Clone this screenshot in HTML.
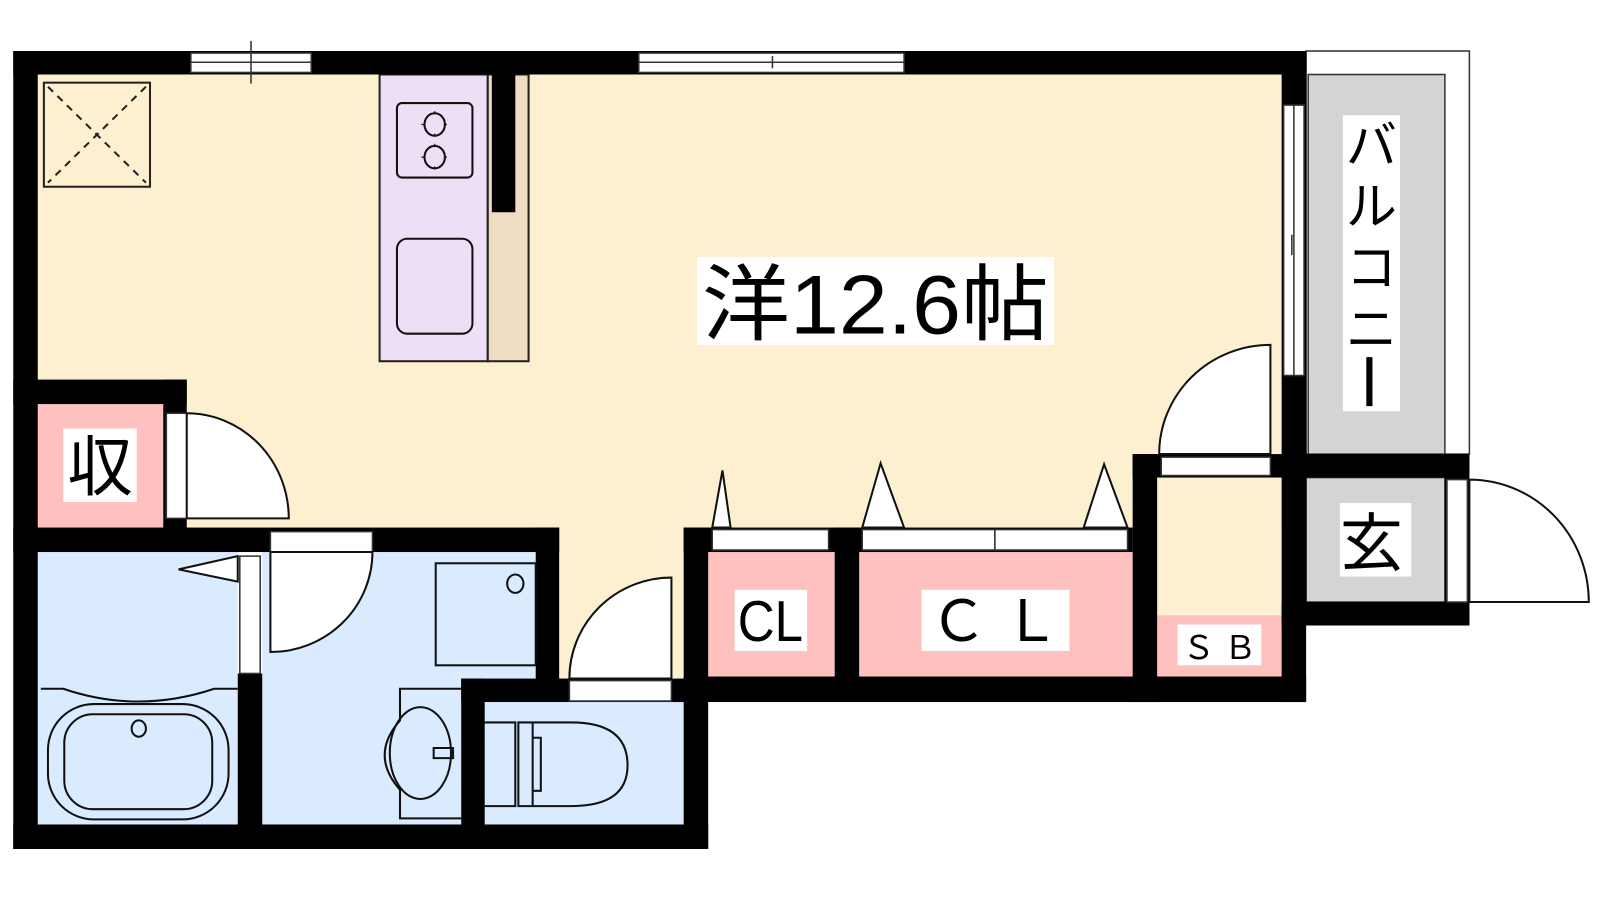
<!DOCTYPE html>
<html><head><meta charset="utf-8"><style>html,body{margin:0;padding:0;background:#fff}svg{display:block}</style></head><body>
<svg width="1600" height="900" viewBox="0 0 1568 882" xmlns="http://www.w3.org/2000/svg" font-family="'Liberation Sans','Noto Sans CJK JP',sans-serif">
<!-- fills -->
<rect x="37" y="73" width="1219" height="447" fill="#FDF0D0"/>
<rect x="548" y="515" width="122" height="152" fill="#FDF0D0"/>
<rect x="1134" y="466" width="122" height="140" fill="#FDF0D0"/>
<rect x="37" y="396" width="123" height="123" fill="#FFC0C0"/>
<rect x="37" y="541" width="196" height="267" fill="#DBEBFF"/>
<rect x="257" y="541" width="268" height="267" fill="#DBEBFF"/>
<rect x="475" y="688" width="195" height="120" fill="#DBEBFF"/>
<rect x="694" y="541" width="124" height="122" fill="#FFC0C0"/>
<rect x="842" y="541" width="268" height="122" fill="#FFC0C0"/>
<rect x="1134" y="603" width="122" height="60" fill="#FFC0C0"/>
<!-- balcony -->
<rect x="1280" y="50" width="160" height="395" fill="#fff" stroke="#333" stroke-width="1.5"/>
<rect x="1282" y="73" width="134" height="372" fill="#D4D4D4" stroke="#333" stroke-width="1.5"/>
<rect x="1280" y="468" width="136" height="122" fill="#D4D4D4" stroke="#333" stroke-width="1.5"/>
<rect x="1258" y="468" width="22" height="122" fill="#fff" stroke="#333" stroke-width="1.5"/>
<!-- kitchen -->
<rect x="372" y="73" width="106" height="281" fill="#EDDFF5" stroke="#222" stroke-width="2"/>
<rect x="478" y="73" width="40" height="281" fill="#EEDDC3" stroke="#222" stroke-width="2"/>
<rect x="482" y="73" width="23" height="135" fill="#000"/>
<rect x="389" y="101" width="74" height="73" rx="5" fill="none" stroke="#111" stroke-width="2"/>
<ellipse cx="426" cy="122" rx="10" ry="11" fill="none" stroke="#111" stroke-width="2"/>
<ellipse cx="426" cy="154" rx="10" ry="11" fill="none" stroke="#111" stroke-width="2"/>
<path d="M426 109v26M413 122h26M426 141v26M413 154h26" stroke="#111" stroke-width="1.2" stroke-dasharray="3 19"/>
<rect x="389" y="234" width="74" height="93" rx="10" fill="none" stroke="#111" stroke-width="2"/>
<!-- vent -->
<rect x="43" y="81" width="104" height="102" fill="none" stroke="#222" stroke-width="2"/>
<path d="M47 85L143 179M143 85L47 179" stroke="#222" stroke-width="2" stroke-dasharray="7 6"/>
<!-- walls -->
<g fill="#000">
<rect x="13" y="50" width="1267" height="23"/>
<rect x="13" y="50" width="24" height="782"/>
<rect x="13" y="808" width="681" height="24"/>
<rect x="13" y="372" width="170" height="24"/>
<rect x="160" y="372" width="23" height="147"/>
<rect x="13" y="517" width="535" height="24"/>
<rect x="525" y="517" width="23" height="150"/>
<rect x="233" y="660" width="24" height="150"/>
<rect x="452" y="665" width="23" height="145"/>
<rect x="452" y="665" width="242" height="23"/>
<rect x="670" y="517" width="24" height="315"/>
<rect x="670" y="517" width="440" height="24"/>
<rect x="818" y="517" width="24" height="150"/>
<rect x="670" y="663" width="610" height="25"/>
<rect x="1110" y="445" width="24" height="243"/>
<rect x="1110" y="445" width="330" height="23"/>
<rect x="1256" y="50" width="24" height="638"/>
<rect x="1256" y="590" width="184" height="23"/>
<rect x="1416" y="445" width="24" height="168"/>
</g>
<!-- windows / openings -->
<g fill="#fff" stroke="#333" stroke-width="1.5">
<rect x="187" y="52" width="118" height="19"/>
<rect x="626" y="52" width="260" height="19"/>
<rect x="1258" y="103" width="20" height="265"/>
<rect x="163" y="405" width="20" height="103"/>
<rect x="265" y="521" width="100" height="20"/>
<rect x="235" y="545" width="20" height="115"/>
<rect x="558" y="667" width="100" height="20"/>
<rect x="698" y="519" width="114" height="20"/>
<rect x="845" y="519" width="130" height="20"/>
<rect x="975" y="519" width="130" height="20"/>
<rect x="1138" y="448" width="107" height="18"/>
<rect x="1418" y="470" width="20" height="120"/>
</g>
<path d="M187 61H305M246 40V82M626 61H886M757 55V67M1268 103V368M1266 230V250" stroke="#333" stroke-width="1.5"/>
<!-- door arcs -->
<g fill="#fff" stroke="#111" stroke-width="2">
<path d="M183 405A100 103 0 0 1 283 508H183Z"/>
<path d="M265 541H365A100 98 0 0 1 265 639Z"/>
<path d="M658 566V665H558A100 99 0 0 1 658 566Z"/>
<path d="M1245 338V445H1136A109 107 0 0 1 1245 338Z"/>
<path d="M1440 470A117 120 0 0 1 1557 590H1440Z"/>
<path d="M698 517L708 461L716 517Z"/>
<path d="M845 517L863 454L886 517Z"/>
<path d="M1062 517L1082 455L1105 517Z"/>
<path d="M233 545L175 558L233 570Z"/>
</g>
<!-- bath fixtures -->
<g fill="none" stroke="#111" stroke-width="2">
<path d="M40 675H62Q135 700 210 675H233"/>
<rect x="47" y="690" width="177" height="113" rx="45"/>
<rect x="63" y="700" width="145" height="93" rx="28"/>
<ellipse cx="136" cy="714" rx="7" ry="8"/>
<rect x="427" y="552" width="98" height="100"/>
<ellipse cx="505" cy="572" rx="8" ry="9"/>
<path d="M452 675H392V706Q362 740 392 774V802H452"/>
<ellipse cx="412" cy="738" rx="30" ry="45"/>
<path d="M425 733H444V743H425Z"/>
<path d="M475 708H505V790H475M508 708H560Q615 708 615 750Q615 790 560 790H508ZM522 708V790M522 723H530V775H522"/>
</g>
<!-- labels -->
<g fill="#fff">
<rect x="62" y="420" width="72" height="72"/>
<rect x="683" y="252" width="350" height="86"/>
<rect x="720" y="578" width="71" height="60"/>
<rect x="903" y="578" width="145" height="60"/>
<rect x="1154" y="612" width="82" height="40"/>
<rect x="1316" y="113" width="56" height="290"/>
<rect x="1313" y="493" width="70" height="72"/>
</g>
<g fill="#000" text-anchor="middle">
<text x="98" y="480" font-size="64">収</text>
<text x="858" y="327" font-size="82" textLength="340" lengthAdjust="spacingAndGlyphs">洋12.6帖</text>
<text x="755" y="628" font-size="56" textLength="64" lengthAdjust="spacingAndGlyphs">CL</text>
<text x="975" y="628" font-size="56">Ｃ Ｌ</text>
<text x="1195" y="646" font-size="32">Ｓ Ｂ</text>
<text x="1344" y="554" font-size="62">玄</text>
<text x="1344" y="160" font-size="50">バ</text>
<text x="1344" y="220" font-size="50">ル</text>
<text x="1344" y="280" font-size="50">コ</text>
<text x="1344" y="340" font-size="50">ニ</text>
<rect x="1339" y="350" width="6" height="48"/>
</g>
</svg>
</body></html>
